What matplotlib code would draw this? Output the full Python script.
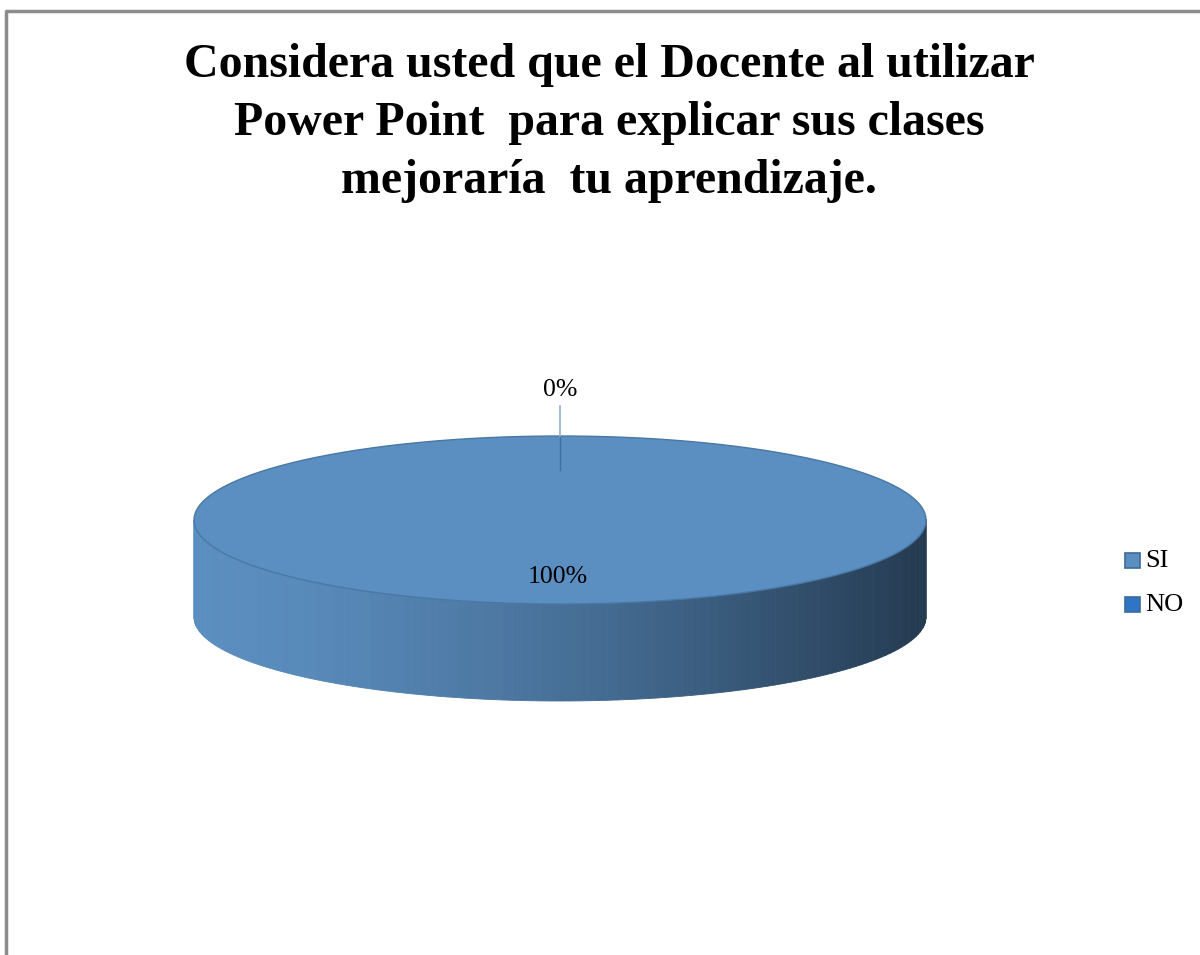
import numpy as np
import matplotlib.pyplot as plt
from matplotlib.patches import Polygon, Rectangle

# data
labels = ["SI", "NO"]
values = [100, 0]
pct_labels = ["100%", "0%"]
colors = ["#5b8ec1", "#2e75c6"]
title = "Considera usted que el Docente al utilizar\nPower Point  para explicar sus clases\nmejoraría  tu aprendizaje."

plt.rcParams['font.family'] = ['Liberation Serif', 'DejaVu Serif']

fig = plt.figure(figsize=(12, 9.55), dpi=100)
ax = fig.add_axes([0, 0, 1, 1])
ax.set_xlim(0, 1200)
ax.set_ylim(955, 0)
ax.axis('off')

# chart area border (left and top only visible)
ax.plot([6, 6, 1200], [955, 11, 11], color="#8c8c8c", lw=2.5, solid_capstyle='butt')

ax.text(609, 43, title, ha='center', va='top', fontsize=34.5, fontweight='bold',
        linespacing=1.41)

# pie geometry
cx, cy = 560, 520
a, b = 366, 84
depth = 97

def ell(t, yoff=0):
    return cx + a * np.cos(t), cy + yoff + b * np.sin(t)

# side (front half), drawn as vertical gradient strips
c0 = np.array([91, 142, 192]) / 255
c1 = np.array([36, 58, 80]) / 255
n = 120
ts = np.linspace(np.pi, 0, n + 1)
for i in range(n):
    t = np.linspace(ts[i], ts[i + 1], 4)
    x, y = ell(t)
    xb, yb = ell(t[::-1], depth)
    f = (0.5 * (np.cos(ts[i]) + np.cos(ts[i + 1])) + 1) / 2
    col = c0 + (c1 - c0) * f ** 1.5
    ax.add_patch(Polygon(np.column_stack([np.r_[x, xb], np.r_[y, yb]]),
                         closed=True, fc=col, ec=col, lw=0.6))

# top surface wedges from values
total = sum(values)
start = -np.pi / 2  # top of ellipse in screen coords
bounds = [start]
for v in values:
    bounds.append(bounds[-1] + 2 * np.pi * v / total)
for i, v in enumerate(values):
    if v <= 0:
        continue
    t = np.linspace(bounds[i], bounds[i + 1], 300)
    x, y = ell(t)
    ax.add_patch(Polygon(np.column_stack([np.r_[cx, x], np.r_[cy, y]]),
                         closed=True, fc=colors[i], ec='none', zorder=3))
tt = np.linspace(0, 2 * np.pi, 400)
ex, ey = ell(tt)
ax.plot(ex, ey, color="#4a78a6", lw=1, zorder=4)

# zero slice: boundary line plus leader to label
for i, v in enumerate(values):
    if v == 0:
        ang = bounds[i]
        x0, y0 = ell(ang)
        ax.plot([x0, x0], [y0, y0 + 34], color="#3f6f9f", lw=1, zorder=5)
        ax.plot([x0, x0], [y0 - 30, y0], color="#8fb3d9", lw=1.2, zorder=5)
        ax.text(x0, y0 - 46, pct_labels[i], ha='center', va='center', fontsize=18.5, color='black')
    else:
        ax.text(cx - 2, cy + 57, pct_labels[i], ha='center', va='center', fontsize=18.5,
                color='black', zorder=6)

# legend
for i, lab in enumerate(labels):
    ly = 560 + 44 * i
    ax.add_patch(Rectangle((1125, ly - 7.5), 15, 15, fc=colors[i], ec="#3d6a99", lw=1.2, zorder=6))
    ax.text(1145, ly + 1, lab, ha='left', va='center', fontsize=19, color='black')

fig.savefig("out.png", dpi=100)
